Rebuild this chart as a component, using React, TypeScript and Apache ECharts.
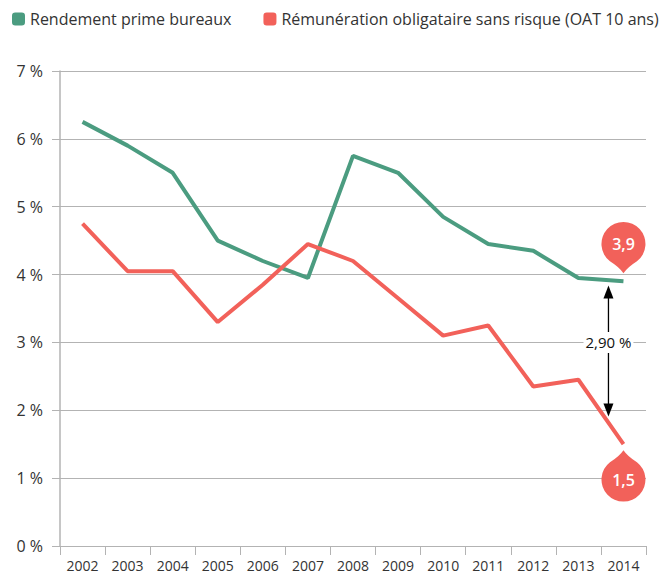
import React, { useEffect, useRef } from 'react';
import * as echarts from 'echarts';

const years = ['2002', '2003', '2004', '2005', '2006', '2007', '2008', '2009', '2010', '2011', '2012', '2013', '2014'];
const primeOfficeYield = [6.25, 5.9, 5.5, 4.5, 4.2, 3.95, 5.75, 5.5, 4.85, 4.45, 4.35, 3.95, 3.9];
const riskFreeYield = [4.75, 4.05, 4.05, 3.3, 3.85, 4.45, 4.2, 3.65, 3.1, 3.25, 2.35, 2.45, 1.5];
const seriesNames = ['Rendement prime bureaux', 'Rémunération obligataire sans risque (OAT 10 ans)'];
const pinIndex = [12, 12];
const pinValues = [3.9, 1.5];
const pinTexts = ['3,9', '1,5'];
const pinDirections = ['up', 'down'];
const spreadIndex = 12;
const spreadTop = 3.84;
const spreadBottom = 1.91;
const spreadLabelValue = 3.0;
const spreadLabel = '2,90 %';

const GREEN = '#4b9c80';
const RED = '#f2615a';
const GRID = '#b3b3b3';
const TEXT = '#333333';
const FONT = '"Open Sans", sans-serif';

const PIN_PATH = 'M0,0 Q-4,-6 -13.5,-12 A22,22 0 1 1 13.5,-12 Q4,-6 0,0 Z';

export default function App() {
  const ref = useRef<HTMLDivElement>(null);
  useEffect(() => {
    document.body.style.margin = '0';
    if (!ref.current) return;
    const chart = echarts.init(ref.current, undefined, { renderer: 'svg' });
    const option: any = {
      animation: false,
      textStyle: { fontFamily: FONT },
      legend: {
        data: seriesNames,
        left: 12,
        top: 11,
        padding: 0,
        icon: 'roundRect',
        itemWidth: 13,
        itemHeight: 13,
        itemGap: 32,
        textStyle: { fontSize: 16, color: TEXT, fontFamily: FONT },
      },
      grid: { left: 60, right: 22, top: 71, bottom: 28 },
      xAxis: {
        type: 'category',
        data: years,
        boundaryGap: true,
        axisLine: { lineStyle: { color: GRID, width: 1 } },
        axisTick: { show: true, length: 9, lineStyle: { color: GRID } },
        axisLabel: { color: TEXT, fontSize: 14, margin: 12, fontFamily: FONT },
      },
      yAxis: {
        type: 'value',
        min: 0,
        max: 7,
        interval: 1,
        axisLine: { show: true, lineStyle: { color: GRID, width: 1.5 } },
        axisTick: { show: true, length: 8, lineStyle: { color: GRID } },
        axisLabel: { color: TEXT, fontSize: 16, margin: 17, formatter: '{value} %', fontFamily: FONT },
        splitLine: { show: true, lineStyle: { color: GRID, width: 1 } },
      },
      series: [
        {
          name: seriesNames[0],
          type: 'line',
          data: primeOfficeYield,
          symbol: 'none',
          itemStyle: { color: GREEN },
          lineStyle: { color: GREEN, width: 4 },
          z: 3,
        },
        {
          name: seriesNames[1],
          type: 'line',
          data: riskFreeYield,
          symbol: 'none',
          itemStyle: { color: RED },
          lineStyle: { color: RED, width: 4 },
          z: 3,
        },
        {
          type: 'custom',
          name: 'spread',
          coordinateSystem: 'cartesian2d',
          clip: false,
          z: 4,
          data: [[spreadIndex, spreadTop, spreadBottom, spreadLabelValue]],
          renderItem: (params: any, api: any) => {
            const top = api.coord([api.value(0), api.value(1)]);
            const bottom = api.coord([api.value(0), api.value(2)]);
            const mid = api.coord([api.value(0), api.value(3)]);
            const x = top[0] - 15;
            const y1 = top[1];
            const y2 = bottom[1];
            return {
              type: 'group',
              children: [
                {
                  type: 'line',
                  shape: { x1: x, y1: y1 + 8, x2: x, y2: y2 - 8 },
                  style: { stroke: '#000', lineWidth: 1.3 },
                },
                {
                  type: 'polygon',
                  shape: { points: [[x, y1], [x - 5, y1 + 13], [x + 5, y1 + 13]] },
                  style: { fill: '#000' },
                },
                {
                  type: 'polygon',
                  shape: { points: [[x, y2], [x - 5, y2 - 13], [x + 5, y2 - 13]] },
                  style: { fill: '#000' },
                },
                {
                  type: 'text',
                  x: x,
                  y: mid[1],
                  style: {
                    text: spreadLabel,
                    fill: '#111',
                    font: `15px ${FONT}`,
                    align: 'center',
                    verticalAlign: 'middle',
                    backgroundColor: '#fff',
                    padding: [3, 2],
                  },
                },
              ],
            };
          },
        },
        {
          type: 'custom',
          name: 'pins',
          coordinateSystem: 'cartesian2d',
          clip: false,
          z: 5,
          data: pinValues.map((v, i) => [pinIndex[i], v]),
          renderItem: (params: any, api: any) => {
            const i = params.dataIndex;
            const p = api.coord([api.value(0), api.value(1)]);
            const up = pinDirections[i] === 'up';
            const tipY = up ? p[1] - 8 : p[1] + 6;
            const centerY = up ? tipY - 29 : tipY + 30;
            return {
              type: 'group',
              children: [
                {
                  type: 'path',
                  x: p[0],
                  y: tipY,
                  scaleY: up ? 1 : -1,
                  shape: { pathData: PIN_PATH },
                  style: { fill: RED },
                },
                {
                  type: 'text',
                  x: p[0],
                  y: centerY,
                  style: {
                    text: pinTexts[i],
                    fill: '#fff',
                    font: `600 16px ${FONT}`,
                    align: 'center',
                    verticalAlign: 'middle',
                  },
                },
              ],
            };
          },
        },
      ],
    };
    chart.setOption(option);
    return () => {
      chart.dispose();
    };
  }, []);
  return <div ref={ref} style={{ width: 668, height: 574 }} />;
}
